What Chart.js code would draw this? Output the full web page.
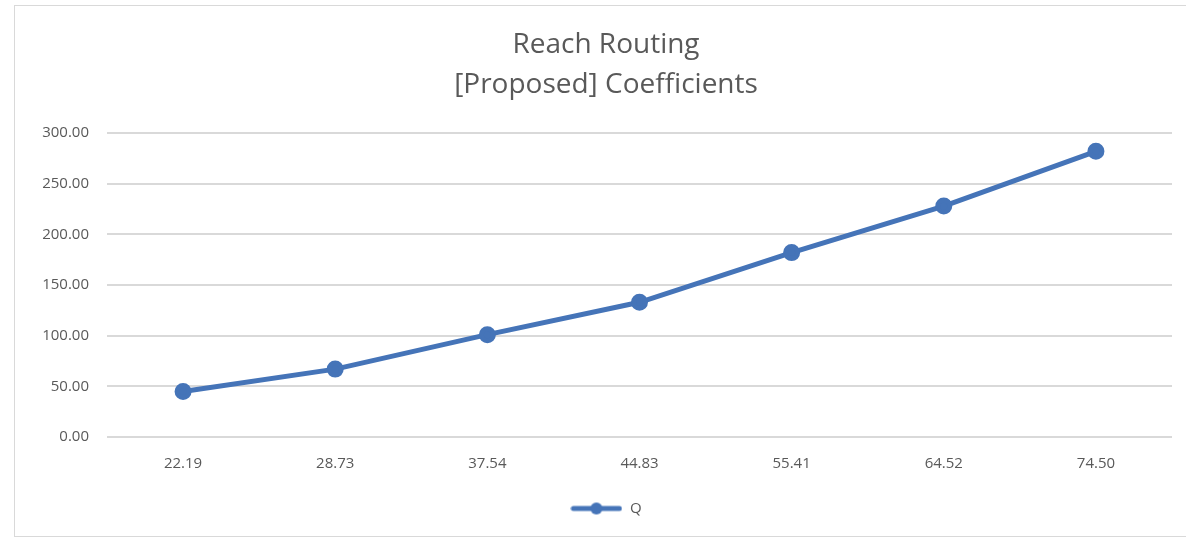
<!DOCTYPE html>
<html>
<head>
<meta charset="utf-8">
<script src="https://cdn.jsdelivr.net/npm/chart.js@4"></script>
<style>
  html, body { margin: 0; padding: 0; background: #fff; }
  body { width: 1186px; height: 540px; overflow: hidden; position: relative; }
  #frame {
    position: absolute; left: 14px; top: 5px; width: 1180px; height: 532px;
    border: 1px solid #d9d9d9; box-sizing: border-box;
  }
  #wrap { position: absolute; left: 0; top: 0; width: 1186px; height: 540px; }
</style>
</head>
<body>
<div id="frame"></div>
<div id="wrap"><canvas id="chart"></canvas></div>
<script>
// chart values
const categories = ['22.19', '28.73', '37.54', '44.83', '55.41', '64.52', '74.50'];
const qValues    = [45, 67, 101, 133, 182, 228, 282];
const titleLines = ['Reach Routing', '[Proposed] Coefficients'];
const seriesName = 'Q';

const lineColor = '#4574b8';
const textColor = '#595959';
const gridColor = '#d9d9d9';
const fontFamily = "'Open Sans', 'Liberation Sans', sans-serif";

// legend marker: line with a dot, like the office style
function legendMarker() {
    const c = document.createElement('canvas');
    c.width = 52; c.height = 16;
    const ctx = c.getContext('2d');
    ctx.strokeStyle = lineColor;
    ctx.lineWidth = 5;
    ctx.lineCap = 'round';
    ctx.beginPath();
    ctx.moveTo(3, 8);
    ctx.lineTo(49, 8);
    ctx.stroke();
    ctx.fillStyle = lineColor;
    ctx.beginPath();
    ctx.arc(26, 8, 6, 0, Math.PI * 2);
    ctx.fill();
    return c;
}

const chart = new Chart(document.getElementById('chart'), {
    type: 'line',
    data: {
        labels: categories,
        datasets: [{
            label: seriesName,
            data: qValues,
            borderColor: lineColor,
            backgroundColor: lineColor,
            borderWidth: 5,
            pointRadius: 6,
            pointHoverRadius: 6,
            pointBackgroundColor: lineColor,
            pointBorderColor: lineColor,
            tension: 0
        }]
    },
    options: {
        responsive: true,
        maintainAspectRatio: false,
        animation: false,
        devicePixelRatio: 1,
        layout: {
            padding: { top: 25, left: 40, right: 14, bottom: 14 }
        },
        scales: {
            x: {
                offset: true,
                grid: { display: false, drawTicks: false },
                border: { display: false },
                ticks: {
                    color: textColor,
                    font: { family: fontFamily, size: 15 },
                    padding: 18
                }
            },
            y: {
                min: 0,
                max: 300,
                grid: { color: gridColor, lineWidth: 2, drawTicks: false },
                border: { display: false },
                ticks: {
                    stepSize: 50,
                    color: textColor,
                    font: { family: fontFamily, size: 15 },
                    padding: 18,
                    callback: v => v.toFixed(2)
                },
                // fixed axis width so the plot starts where the reference does
                afterFit: function (scale) {
                    scale.width = 67;
                }
            }
        },
        plugins: {
            title: {
                display: true,
                text: titleLines,
                color: textColor,
                font: { family: fontFamily, size: 28, weight: 'normal', lineHeight: 1.43 },
                padding: { top: 0, bottom: 28 }
            },
            legend: {
                position: 'bottom',
                labels: {
                    color: textColor,
                    font: { family: fontFamily, size: 15 },
                    usePointStyle: true,
                    pointStyleWidth: 52,
                    generateLabels: function (ch) {
                        const marker = legendMarker();
                        return ch.data.datasets.map((ds, i) => ({
                            text: ds.label,
                            fillStyle: lineColor,
                            strokeStyle: lineColor,
                            lineWidth: 0,
                            pointStyle: marker,
                            fontColor: textColor,
                            datasetIndex: i
                        }));
                    }
                }
            },
            tooltip: { enabled: false }
        }
    }
});
</script>
</body>
</html>
